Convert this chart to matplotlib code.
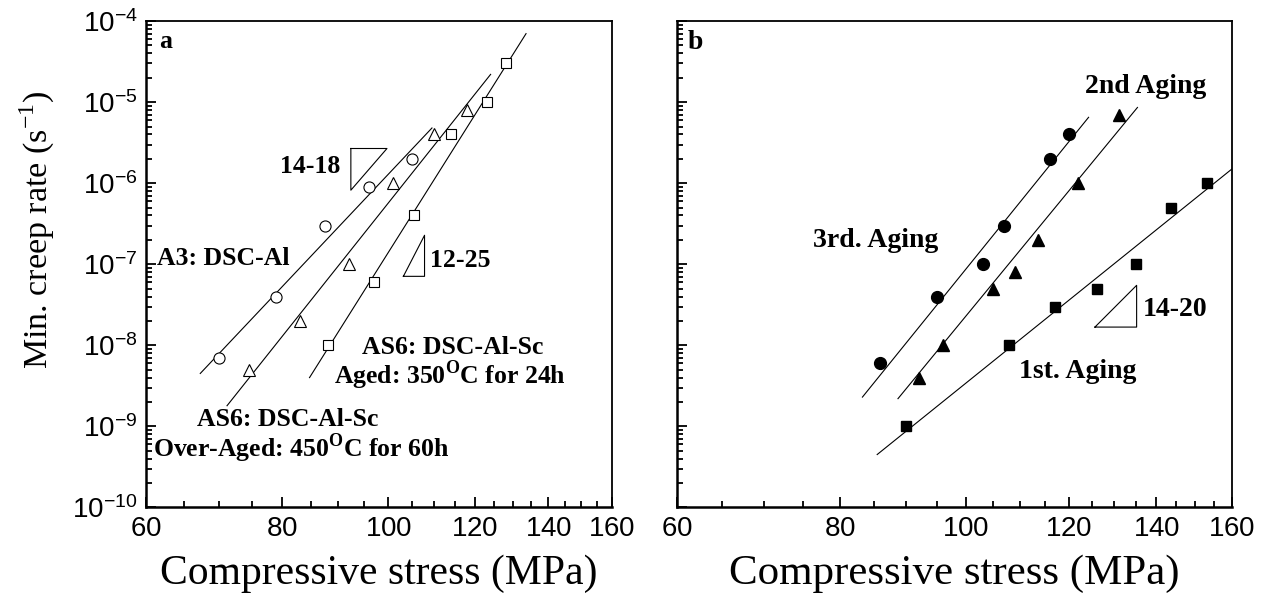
import numpy as np
import matplotlib
matplotlib.use('Agg')
import matplotlib.pyplot as plt
from matplotlib.ticker import FixedLocator, NullFormatter, FuncFormatter, LogLocator

plt.rcParams['font.family'] = 'Liberation Serif'
plt.rcParams['mathtext.fontset'] = 'custom'
plt.rcParams['mathtext.rm'] = 'Liberation Serif'
plt.rcParams['mathtext.bf'] = 'Liberation Serif:bold'
plt.rcParams['mathtext.sf'] = 'Liberation Sans'

### PANEL A DATA (open symbols)
a3_x = [70, 79, 87.5, 96, 105]
a3_y = [7e-9, 4e-8, 3e-7, 9e-7, 2e-6]
over_x = [74.6, 83, 92, 101, 110, 118]
over_y = [5e-9, 2e-8, 1e-7, 1e-6, 4e-6, 8e-6]
aged_x = [88, 97, 105.5, 114, 123, 128]
aged_y = [1e-8, 6e-8, 4e-7, 4e-6, 1e-5, 3e-5]
# fitted lines, end points
a3_fit_x = [67.3, 109.6]
a3_fit_y = [4.5e-9, 4.8e-6]
over_fit_x = [71.2, 124]
over_fit_y = [1.8e-9, 2.2e-5]
aged_fit_x = [84.7, 133.6]
aged_fit_y = [4e-9, 7e-5]
# slope triangles
tri_a1_x = [92.4, 99.7, 92.4, 92.4]
tri_a1_y = [2.68e-6, 2.68e-6, 8.2e-7, 2.68e-6]
tri_a2_x = [103.2, 107.9, 107.9, 103.2]
tri_a2_y = [7.1e-8, 7.1e-8, 2.28e-7, 7.1e-8]

### PANEL B DATA (filled symbols)
first_x = [90, 108, 117, 126, 135, 143.6, 153]
first_y = [1e-9, 1e-8, 3e-8, 5e-8, 1e-7, 5e-7, 1e-6]
second_x = [92, 96, 105, 109, 113.5, 122, 131]
second_y = [4e-9, 1e-8, 5e-8, 8e-8, 2e-7, 1e-6, 7e-6]
third_x = [86, 95, 103, 107, 116, 120]
third_y = [6e-9, 4e-8, 1e-7, 3e-7, 2e-6, 4e-6]
first_fit_x = [85.5, 160]
first_fit_y = [4.5e-10, 1.5e-6]
second_fit_x = [88.7, 135.4]
second_fit_y = [2.2e-9, 8.6e-6]
third_fit_x = [83.3, 124.2]
third_fit_y = [2.3e-9, 6.5e-6]
tri_b_x = [125.6, 135.2, 135.2, 125.6]
tri_b_y = [1.68e-8, 1.68e-8, 5.5e-8, 1.68e-8]

xticks = [60, 80, 100, 120, 140, 160]
xminor = list(range(65, 160, 5))

fig = plt.figure(figsize=(12.76, 6.02), dpi=100)
ax_a = fig.add_axes([0.1142, 0.157, 0.3652, 0.808])
ax_b = fig.add_axes([0.5303, 0.157, 0.4352, 0.808])

def setup(ax, ylabels):
    ax.set_xscale('log')
    ax.set_yscale('log')
    ax.set_xlim(60, 160)
    ax.set_ylim(1e-10, 1e-4)
    ax.xaxis.set_major_locator(FixedLocator(xticks))
    ax.xaxis.set_minor_locator(FixedLocator([v for v in xminor if v not in xticks]))
    ax.xaxis.set_major_formatter(FuncFormatter(lambda v, p: r'$\mathsf{%d}$' % v))
    ax.xaxis.set_minor_formatter(NullFormatter())
    ax.yaxis.set_major_locator(LogLocator(base=10, numticks=20))
    ax.yaxis.set_minor_locator(LogLocator(base=10, subs=np.arange(2, 10), numticks=20))
    ax.yaxis.set_minor_formatter(NullFormatter())
    if ylabels:
        ax.yaxis.set_major_formatter(FuncFormatter(
            lambda v, p: r'$\mathsf{10^{%d}}$' % round(np.log10(v))))
    else:
        ax.yaxis.set_major_formatter(NullFormatter())
    ax.tick_params(which='both', direction='in', top=False, right=False, width=1.3)
    ax.tick_params(which='major', length=7, labelsize=20)
    ax.tick_params(which='minor', length=4)
    ax.tick_params(axis='x', which='major', pad=7)
    ax.tick_params(axis='y', which='major', pad=6)
    for s in ['left', 'bottom']:
        ax.spines[s].set_linewidth(1.8)
    for s in ['top', 'right']:
        ax.spines[s].set_linewidth(1.3)

setup(ax_a, True)
setup(ax_b, False)

lw = 0.8
# panel a
ax_a.plot(a3_fit_x, a3_fit_y, color='black', lw=lw)
ax_a.plot(over_fit_x, over_fit_y, color='black', lw=lw)
ax_a.plot(aged_fit_x, aged_fit_y, color='black', lw=lw)
ax_a.plot(a3_x, a3_y, 'o', ms=8, mfc='white', mec='black', mew=0.8)
ax_a.plot(over_x, over_y, '^', ms=8.5, mfc='white', mec='black', mew=0.8)
ax_a.plot(aged_x, aged_y, 's', ms=7, mfc='white', mec='black', mew=0.8)
ax_a.plot(tri_a1_x, tri_a1_y, color='black', lw=lw)
ax_a.plot(tri_a2_x, tri_a2_y, color='black', lw=lw)

bold = dict(fontsize=18.5, fontweight='bold', va='center', transform=ax_a.transAxes)
ax_a.text(0.029, 0.957, 'a', **bold)
ax_a.text(0.417, 0.702, '14-18', ha='right', **bold)
ax_a.text(0.610, 0.508, '12-25', ha='left', **bold)
ax_a.text(0.0236, 0.512, 'A3: DSC-Al', ha='left', **bold)
ax_a.text(0.4635, 0.328, 'AS6: DSC-Al-Sc', ha='left', **bold)
ax_a.text(0.404, 0.272, r'Aged: 350$^{\mathbf{O}}$C for 24h', ha='left', **bold)
ax_a.text(0.1094, 0.181, 'AS6: DSC-Al-Sc', ha='left', **bold)
ax_a.text(0.0163, 0.122, r'Over-Aged: 450$^{\mathbf{O}}$C for 60h', ha='left', **bold)

# panel b
ax_b.plot(first_fit_x, first_fit_y, color='black', lw=lw)
ax_b.plot(second_fit_x, second_fit_y, color='black', lw=lw)
ax_b.plot(third_fit_x, third_fit_y, color='black', lw=lw)
ax_b.plot(third_x, third_y, 'o', ms=8.5, color='black')
ax_b.plot(second_x, second_y, '^', ms=8, color='black')
ax_b.plot(first_x, first_y, 's', ms=7, color='black')
ax_b.plot(tri_b_x, tri_b_y, color='black', lw=lw)

bold['transform'] = ax_b.transAxes
bold['fontsize'] = 20
ax_b.text(0.019, 0.955, 'b', ha='left', **bold)
ax_b.text(0.7353, 0.866, '2nd Aging', ha='left', **bold)
ax_b.text(0.246, 0.548, '3rd. Aging', ha='left', **bold)
ax_b.text(0.617, 0.2805, '1st. Aging', ha='left', **bold)
ax_b.text(0.840, 0.4068, '14-20', ha='left', **bold)

ax_a.set_xlabel('Compressive stress (MPa)', fontsize=30, labelpad=9)
ax_b.set_xlabel('Compressive stress (MPa)', fontsize=31, labelpad=9)
fig.text(0.029, 0.618, 'Min. creep rate (s$^{-1}$)', rotation=90, fontsize=24.5,
         ha='center', va='center')

plt.savefig('out.png', dpi=100)
